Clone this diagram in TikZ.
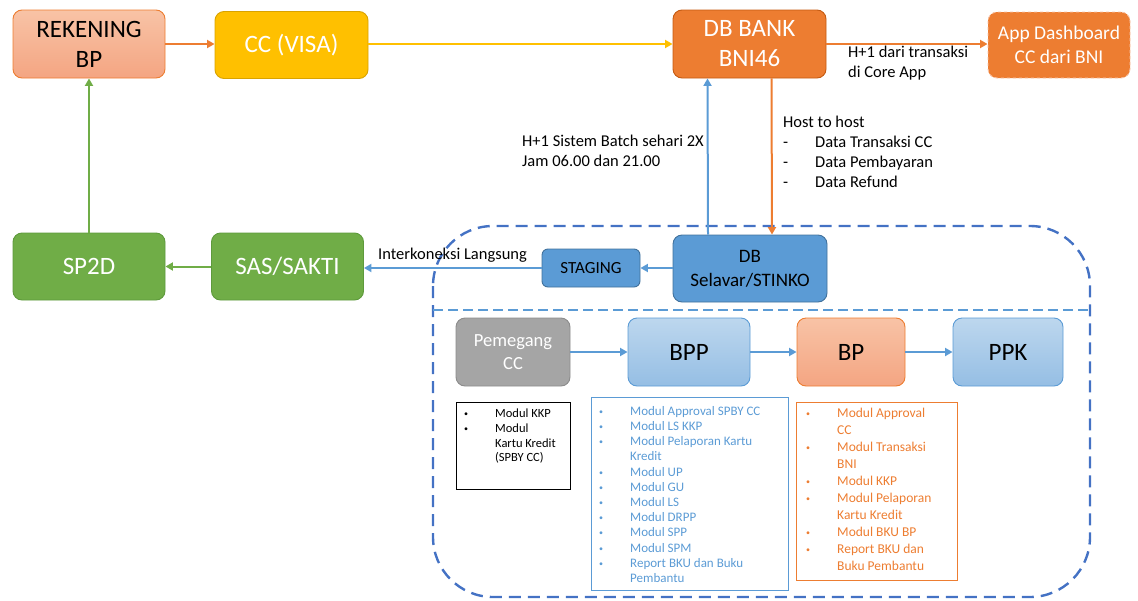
\documentclass[tikz,border=0pt]{standalone}
\usepackage{fontspec}
\setmainfont{Carlito}
\usetikzlibrary{arrows.meta}

\definecolor{bniorange}{HTML}{ED7D31}
\definecolor{darkorange}{HTML}{C55A11}
\definecolor{peachtop}{HTML}{F8C3A6}
\definecolor{peachbot}{HTML}{F4A582}
\definecolor{visayellow}{HTML}{FFC000}
\definecolor{visaline}{HTML}{D9A300}
\definecolor{satkergreen}{HTML}{70AD47}
\definecolor{greenline}{HTML}{5E9A3C}
\definecolor{dbblue}{HTML}{5B9BD5}
\definecolor{blueline}{HTML}{41719C}
\definecolor{paletop}{HTML}{BDD7EE}
\definecolor{palebot}{HTML}{95BEE4}
\definecolor{frameblue}{HTML}{4472C4}
\definecolor{holdergray}{HTML}{A5A5A5}
\definecolor{grayline}{HTML}{8C8C8C}

\newcommand{\itm}[1]{\makebox[31pt][l]{\raisebox{1pt}{\fontsize{8}{8}\selectfont\textbullet}}#1}
\newcommand{\cnt}[1]{\hspace*{31pt}#1}
\newcommand{\dsh}[1]{\makebox[32pt][l]{-}#1}

\begin{document}
\begin{tikzpicture}[x=1pt, y=-1pt,
    box/.style={rectangle, rounded corners=9pt, line width=0.9pt, align=center, inner sep=0pt},
    bigtext/.style={font=\fontsize{25}{30}\selectfont},
    peachbox/.style={box, draw=bniorange, top color=peachtop, bottom color=peachbot},
    palebox/.style={box, draw=dbblue, top color=paletop, bottom color=palebot},
    greenbox/.style={box, bigtext, draw=greenline, fill=satkergreen, text=white, minimum width=152pt, minimum height=67pt},
    note/.style={anchor=north west, align=left, inner sep=0pt, font=\fontsize{16.5}{20}\selectfont},
    listbox/.style={rectangle, draw, line width=0.9pt, anchor=north west, inner sep=0pt},
    listtext/.style={anchor=north west, align=left, inner sep=0pt},
    link/.style={line width=2pt, -{Triangle[length=7.5pt,width=8pt]}}
  ]
  \useasboundingbox (0,0) rectangle (1138,600);

  % top row
  \node[peachbox, bigtext, minimum width=152pt, minimum height=68pt] (rek) at (89,44) {REKENING\\BP};
  \node[box, bigtext, draw=visaline, fill=visayellow, text=white, minimum width=153pt, minimum height=67pt] (visa) at (291.5,45) {CC (VISA)};
  \node[box, bigtext, draw=darkorange, fill=bniorange, text=white, minimum width=153pt, minimum height=68pt] (bni) at (749.5,44) {DB BANK\\BNI46};
  \node[box, font=\fontsize{19.5}{24}\selectfont, draw=peachtop, dashed, fill=bniorange, text=white, minimum width=142pt, minimum height=66pt] (dash) at (1059,45) {App Dashboard\\CC dari BNI};

  % bottom row
  \node[greenbox] (sp2d) at (89,266.5) {SP2D};
  \node[greenbox] (sakti) at (287.5,266.5) {SAS/SAKTI};
  \node[box, font=\fontsize{17}{20}\selectfont, rounded corners=6pt, draw=blueline, fill=dbblue, minimum width=98pt, minimum height=38pt] (staging) at (591,268) {STAGING};
  \node[box, font=\fontsize{19}{24}\selectfont, draw=blueline, fill=dbblue, minimum width=154pt, minimum height=67pt] (selavar) at (750,268.5) {DB\\Selavar/STINKO};

  % satker frame
  \draw[frameblue, line width=2.4pt, dash pattern=on 12pt off 7pt, rounded corners=60pt] (433,226) rectangle (1090,597);
  \coordinate (sepl) at (433,310);
  \coordinate (sepr) at (1090,310);
  \draw[dbblue, line width=1.8pt, dash pattern=on 10pt off 5pt] (sepl) -- (sepr);

  % roles
  \node[box, font=\fontsize{18.5}{23}\selectfont, draw=grayline, fill=holdergray, text=white, minimum width=114pt, minimum height=68pt] (holder) at (513,352) {Pemegang\\CC};
  \node[palebox, bigtext, minimum width=122pt, minimum height=68pt] (bpp) at (689,352) {BPP};
  \node[peachbox, bigtext, minimum width=108pt, minimum height=68pt] (bp) at (851,352) {BP};
  \node[palebox, bigtext, minimum width=110pt, minimum height=68pt] (ppk) at (1008,352) {PPK};

  % module lists
  \node[listbox, draw=black, minimum width=114pt, minimum height=87pt] (kkpbox) at (456,402) {};
  \node[listtext, font=\fontsize{12.5}{14.6}\selectfont] (kkplist) at (464,409)
    {\itm{Modul KKP}\\\itm{Modul}\\\cnt{Kartu Kredit}\\\cnt{(SPBY CC)}};
  \node[listbox, draw=dbblue, minimum width=197pt, minimum height=193pt] (bppbox) at (591,397) {};
  \node[listtext, text=dbblue, font=\fontsize{13}{15.2}\selectfont] (bpplist) at (599,406)
    {\itm{Modul Approval SPBY CC}\\\itm{Modul LS KKP}\\\itm{Modul Pelaporan Kartu}\\\cnt{Kredit}\\
     \itm{Modul UP}\\\itm{Modul GU}\\\itm{Modul LS}\\\itm{Modul DRPP}\\\itm{Modul SPP}\\\itm{Modul SPM}\\
     \itm{Report BKU dan Buku}\\\cnt{Pembantu}};
  \node[listbox, draw=bniorange, minimum width=161pt, minimum height=178pt] (bpbox) at (796,402) {};
  \node[listtext, text=bniorange, font=\fontsize{13.5}{17}\selectfont] (bplist) at (806,408)
    {\itm{Modul Approval}\\\cnt{CC}\\\itm{Modul Transaksi}\\\cnt{BNI}\\\itm{Modul KKP}\\
     \itm{Modul Pelaporan}\\\cnt{Kartu Kredit}\\\itm{Modul BKU BP}\\\itm{Report BKU dan}\\\cnt{Buku Pembantu}};

  % labels
  \node[note] (corelbl) at (848,46) {H+1 dari transaksi\\di Core App};
  \node[note] (batchlbl) at (522,135) {H+1 Sistem Batch sehari 2X\\Jam 06.00 dan 21.00};
  \node[note] (hostlbl) at (783,116) {Host to host\\\dsh{Data Transaksi CC}\\\dsh{Data Pembayaran}\\\dsh{Data Refund}};
  \node[note, anchor=base west] (interlbl) at (378,259) {Interkoneksi Langsung};

  % connectors
  \draw[link, bniorange] (rek) -- (rek -| visa.west);
  \draw[link, visayellow] (visa.east |- bni) -- (bni.west);
  \draw[link, bniorange] (bni.east) -- (bni -| dash.west);
  \draw[link, dbblue] ([xshift=-42pt]selavar.north) -- ([xshift=-42pt]bni.south);
  \draw[link, bniorange] ([xshift=22pt]bni.south) -- ([xshift=22pt]selavar.north);
  \draw[link, dbblue] (selavar.west |- staging) -- (staging.east);
  \draw[link, dbblue] (staging.west) -- (staging -| sakti.east);
  \draw[link, satkergreen] (sakti.west) -- (sp2d.east);
  \draw[link, satkergreen] (sp2d.north) -- (rek.south);
  \draw[link, dbblue] (holder.east) -- (bpp.west);
  \draw[link, dbblue] (bpp.east) -- (bp.west);
  \draw[link, dbblue] (bp.east) -- (ppk.west);
\end{tikzpicture}
\end{document}
